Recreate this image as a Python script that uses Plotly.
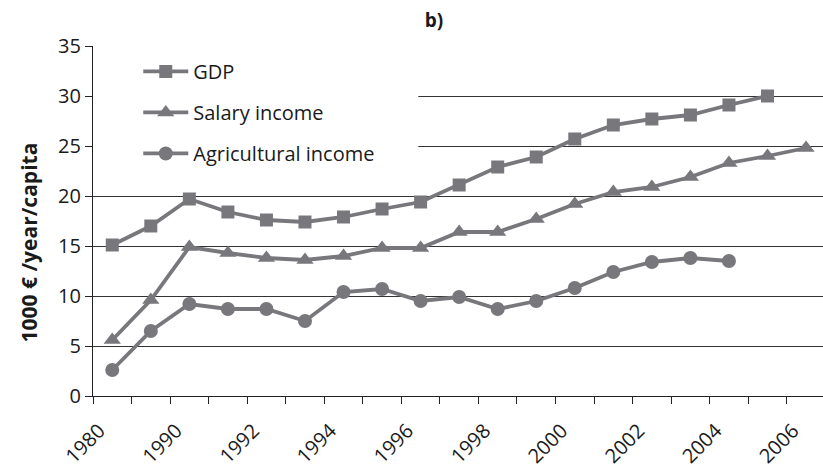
import plotly.graph_objects as go

categories = ["1980", "1985", "1990", "1991", "1992", "1993", "1994", "1995", "1996",
              "1997", "1998", "1999", "2000", "2001", "2002", "2003", "2004", "2005", "2006"]
tick_labels = ["1980", "", "1990", "", "1992", "", "1994", "", "1996", "", "1998", "",
               "2000", "", "2002", "", "2004", "", "2006"]

gdp = [15.1, 17.0, 19.7, 18.4, 17.6, 17.4, 17.9, 18.7, 19.4, 21.1, 22.9, 23.9,
       25.7, 27.1, 27.7, 28.1, 29.1, 30.0]
salary = [5.6, 9.6, 14.9, 14.3, 13.8, 13.6, 14.0, 14.8, 14.8, 16.4, 16.4, 17.7,
          19.2, 20.4, 20.9, 21.9, 23.3, 24.0, 24.8]
agri = [2.6, 6.5, 9.2, 8.7, 8.7, 7.5, 10.4, 10.7, 9.5, 9.9, 8.7, 9.5, 10.8,
        12.4, 13.4, 13.8, 13.5]

COL = "#78787c"
FONT = "Open Sans, Noto Sans, sans-serif"
W, H = 823, 468
ML, MR, MT, MB = 93, 0, 46, 72

fig = go.Figure()
fig.add_trace(go.Scatter(x=categories[:len(gdp)], y=gdp, name="GDP", mode="lines+markers",
                         legendgroup="a",
                         line=dict(color=COL, width=3.8),
                         marker=dict(symbol="square", size=13, color=COL)))
fig.add_trace(go.Scatter(x=categories[:len(salary)], y=salary, name="Salary income",
                         mode="lines+markers", legendgroup="b",
                         line=dict(color=COL, width=3.8),
                         marker=dict(symbol="triangle-up", size=15, color=COL)))
fig.add_trace(go.Scatter(x=categories[:len(agri)], y=agri, name="Agricultural income",
                         mode="lines+markers", legendgroup="c",
                         line=dict(color=COL, width=3.8),
                         marker=dict(symbol="circle", size=14, color=COL)))

# white patch behind the legend hiding the gridlines (between grid and traces)
fig.add_shape(type="rect", xref="x", yref="y", x0=-0.5, x1=7.94, y0=21, y1=34,
              fillcolor="white", line=dict(width=0), layer="between")

# y-axis title as rotated annotation (placed like the reference)
pw, ph = W - ML - MR, H - MT - MB
fig.add_annotation(text="<b>1000 € /year/capita</b>", textangle=-90,
                   xref="paper", yref="paper", x=(28 - ML) / pw, y=(H - MB - 242.5) / ph,
                   xanchor="center", yanchor="middle", showarrow=False,
                   font=dict(size=21, family=FONT, color="#1a1a1a"))

fig.update_layout(
    width=W, height=H,
    margin=dict(l=ML, r=MR, t=MT, b=MB, autoexpand=False),
    paper_bgcolor="white", plot_bgcolor="white",
    font=dict(family=FONT, size=20, color="#1a1a1a"),
    title=dict(text="<b>b)</b>", x=434 / W, xanchor="center", xref="container",
               y=1 - 20 / H, yanchor="middle", yref="container",
               font=dict(size=19, family=FONT, color="#1a1a1a")),
    showlegend=True,
    legend=dict(x=0.062, y=0.983, xanchor="left", yanchor="top",
                bgcolor="rgba(0,0,0,0)", tracegroupgap=12, traceorder="grouped",
                font=dict(size=20, family=FONT), itemwidth=45),
    xaxis=dict(type="category", categoryorder="array", categoryarray=categories,
               range=[-0.5, 18.44], tickmode="array", tickvals=categories,
               ticktext=tick_labels, tickson="boundaries", tickangle=-45,
               ticks="outside", ticklen=7, tickcolor="#222", tickwidth=1.3,
               showline=True, linecolor="#222", linewidth=1.3, showgrid=False,
               tickfont=dict(size=20), zeroline=False, automargin=False,
               ticklabelstandoff=14, ticklabelshift=-13),
    yaxis=dict(range=[0, 35], tickvals=[0, 5, 10, 15, 20, 25, 30, 35],
               ticks="outside", ticklen=7, tickcolor="#222", tickwidth=1.3,
               showline=True, linecolor="#222", linewidth=1.3,
               showgrid=True, gridcolor="#333", gridwidth=1, zeroline=False,
               tickfont=dict(size=20), automargin=False),
)

fig.write_html("out.html", config={"displayModeBar": False},
               post_script="document.body.style.margin='0';")
